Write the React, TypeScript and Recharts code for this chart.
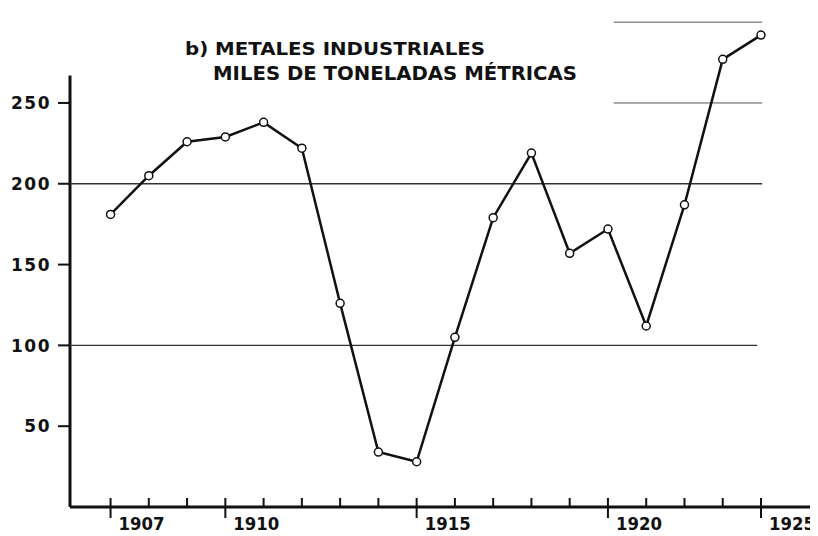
import { LineChart, Line, XAxis, YAxis, ReferenceLine } from "recharts";

// b) Metales industriales, miles de toneladas métricas
const years = [1907, 1908, 1909, 1910, 1911, 1912, 1913, 1914, 1915, 1916, 1917, 1918, 1919, 1920, 1921, 1922, 1923, 1924];
const tonnes = [181, 205, 226, 229, 238, 222, 126, 34, 28, 105, 179, 219, 157, 172, 112, 187, 277, 292];
// labels as printed under the axis (the last tick is printed "1925")
const xTickLabels = ["1907", "", "", "1910", "", "", "", "", "1915", "", "", "", "", "1920", "", "", "", "1925"];
const yTicks = [50, 100, 150, 200, 250];

const data = years.map((year, i) => ({ year, value: tonnes[i] }));

const INK = "#111";
const FONT = "'DejaVu Sans', sans-serif";
const X_MIN = 1905.94;
const X_MAX = 1925.49;
const CHART_H = 536;
const MARGIN_TOP = 6;
const X_AXIS_H = 29;
const AXIS_Y = CHART_H - X_AXIS_H; // bottom of the plot area

const XTick = (props: any) => {
  const { x, index } = props;
  const label = xTickLabels[index];
  return (
    <g>
      <line x1={x} x2={x} y1={AXIS_Y - 9} y2={label ? AXIS_Y + 11 : AXIS_Y} stroke={INK} strokeWidth={2} />
      {label ? (
        <text
          x={x + 8}
          y={AXIS_Y + 23}
          textAnchor="start"
          fontFamily={FONT}
          fontWeight="bold"
          fontSize={17}
          fill={INK}
          textLength={46}
          lengthAdjust="spacingAndGlyphs"
        >
          {label}
        </text>
      ) : null}
    </g>
  );
};

const YTick = (props: any) => {
  const { x, y, payload } = props;
  return (
    <g>
      <line x1={x - 12} x2={x} y1={y} y2={y} stroke={INK} strokeWidth={2} />
      <text x={x - 19} y={y} dy="0.36em" textAnchor="end" fontFamily={FONT} fontWeight="bold" fontSize={17} letterSpacing={1.5} fill={INK}>
        {payload.value}
      </text>
    </g>
  );
};

export default function App() {
  return (
    <div style={{ position: "relative", width: 818, height: CHART_H, margin: "-8px 0 0 -8px", background: "#fff" }}>
      <LineChart width={818} height={CHART_H} data={data} margin={{ top: MARGIN_TOP, right: 0, bottom: 0, left: 0 }}>
        <XAxis
          dataKey="year"
          type="number"
          domain={[X_MIN, X_MAX]}
          ticks={years}
          interval={0}
          height={X_AXIS_H}
          tickSize={0}
          tickMargin={0}
          tick={<XTick />}
          axisLine={{ stroke: INK, strokeWidth: 3 }}
          allowDataOverflow
        />
        <YAxis
          type="number"
          domain={[0, 310]}
          ticks={yTicks}
          width={70}
          tickSize={0}
          tickMargin={0}
          tick={<YTick />}
          axisLine={false}
        />
        <ReferenceLine
          segment={[{ x: X_MIN, y: 0 }, { x: X_MIN, y: 267 }]}
          stroke={INK}
          strokeWidth={3}
          ifOverflow="visible"
        />
        <ReferenceLine segment={[{ x: X_MIN, y: 200 }, { x: 1924.03, y: 200 }]} stroke="#333" strokeWidth={1.3} ifOverflow="visible" />
        <ReferenceLine segment={[{ x: X_MIN, y: 100 }, { x: 1923.9, y: 100 }]} stroke="#333" strokeWidth={1.3} ifOverflow="visible" />
        <ReferenceLine segment={[{ x: 1920.15, y: 250 }, { x: 1924.03, y: 250 }]} stroke="#555" strokeWidth={1} ifOverflow="visible" />
        <ReferenceLine segment={[{ x: 1920.15, y: 300 }, { x: 1924.03, y: 300 }]} stroke="#555" strokeWidth={1} ifOverflow="visible" />
        <Line
          type="linear"
          dataKey="value"
          stroke={INK}
          strokeWidth={2.5}
          dot={{ r: 4, stroke: INK, strokeWidth: 1.5, fill: "#fff" }}
          isAnimationActive={false}
        />
      </LineChart>
      <svg width={818} height={100} style={{ position: "absolute", left: 0, top: 0, pointerEvents: "none" }}>
        <text x={185} y={55} fontFamily={FONT} fontWeight="bold" fontSize={18} fill={INK} textLength={300} lengthAdjust="spacingAndGlyphs">
          b) METALES INDUSTRIALES
        </text>
        <text x={213} y={80} fontFamily={FONT} fontWeight="bold" fontSize={19} fill={INK} textLength={364} lengthAdjust="spacingAndGlyphs">
          MILES DE TONELADAS MÉTRICAS
        </text>
      </svg>
    </div>
  );
}
